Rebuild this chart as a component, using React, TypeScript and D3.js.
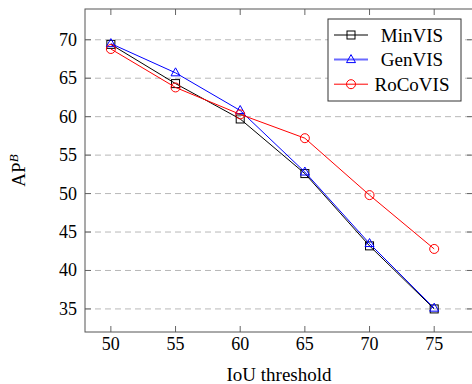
import React, { useRef, useEffect } from "react";
import * as d3 from "d3";

const thresholds = [50, 55, 60, 65, 70, 75];
const minVIS = [69.4, 64.3, 59.7, 52.6, 43.2, 35.0];
const genVIS = [69.5, 65.7, 60.8, 52.8, 43.5, 35.1];
const roCoVIS = [68.8, 63.8, 60.3, 57.2, 49.8, 42.8];
const yTicks = [35, 40, 45, 50, 55, 60, 65, 70];
const seriesNames = ["MinVIS", "GenVIS", "RoCoVIS"];

export default function App() {
    const ref = useRef<SVGSVGElement>(null);

    useEffect(() => {
        const width = 472, height = 384;
        const left = 85, right = 473, top = 9, bottom = 332;
        const font = "'Liberation Serif', 'Times New Roman', serif";

        const svg = d3.select(ref.current);
        svg.selectAll("*").remove();
        svg.attr("width", width).attr("height", height);

        const x = d3.scaleLinear().domain([48, 78]).range([left, right]);
        const y = d3.scaleLinear().domain([32, 74]).range([bottom, top]);

        // grille horizontale
        svg.append("g")
            .selectAll("line")
            .data(yTicks)
            .enter()
            .append("line")
            .attr("x1", left).attr("x2", right)
            .attr("y1", d => y(d)).attr("y2", d => y(d))
            .attr("stroke", "#b8b8b8")
            .attr("stroke-width", 1)
            .attr("stroke-dasharray", "6,4");

        // ticks internes
        const tickColor = "#666";
        const tk = svg.append("g").attr("stroke", tickColor).attr("stroke-width", 1);
        thresholds.forEach(t => {
            tk.append("line").attr("x1", x(t)).attr("x2", x(t)).attr("y1", bottom).attr("y2", bottom - 6);
            tk.append("line").attr("x1", x(t)).attr("x2", x(t)).attr("y1", top).attr("y2", top + 6);
        });
        yTicks.forEach(t => {
            tk.append("line").attr("x1", left).attr("x2", left + 6).attr("y1", y(t)).attr("y2", y(t));
            tk.append("line").attr("x1", right).attr("x2", right - 6).attr("y1", y(t)).attr("y2", y(t));
        });

        // cadre
        svg.append("rect")
            .attr("x", left).attr("y", top)
            .attr("width", right - left).attr("height", bottom - top)
            .attr("fill", "none")
            .attr("stroke", "#555")
            .attr("stroke-width", 1);

        // labels des ticks
        svg.append("g")
            .selectAll("text")
            .data(thresholds)
            .enter()
            .append("text")
            .attr("x", d => x(d))
            .attr("y", 350)
            .attr("text-anchor", "middle")
            .attr("font-family", font)
            .attr("font-size", 18)
            .text(d => d);

        svg.append("g")
            .selectAll("text")
            .data(yTicks)
            .enter()
            .append("text")
            .attr("x", 77)
            .attr("y", d => y(d) + 6)
            .attr("text-anchor", "end")
            .attr("font-family", font)
            .attr("font-size", 18)
            .text(d => d);

        // titres des axes
        svg.append("text")
            .attr("x", (left + right) / 2)
            .attr("y", 381)
            .attr("text-anchor", "middle")
            .attr("font-family", font)
            .attr("font-size", 19)
            .text("IoU threshold");

        const yl = svg.append("text")
            .attr("transform", `translate(25,${(top + bottom) / 2}) rotate(-90)`)
            .attr("text-anchor", "middle")
            .attr("font-family", font)
            .attr("font-size", 19);
        yl.append("tspan").text("AP");
        yl.append("tspan").attr("dy", -7).attr("font-size", 13).attr("font-style", "italic").text("B");

        const series = [
            { name: seriesNames[0], values: minVIS, color: "#000000", mark: "square" },
            { name: seriesNames[1], values: genVIS, color: "#0000ff", mark: "triangle" },
            { name: seriesNames[2], values: roCoVIS, color: "#ff0000", mark: "circle" },
        ];

        const drawMark = (g: any, mark: string, cx: number, cy: number, color: string) => {
            if (mark === "square") {
                g.append("rect").attr("x", cx - 4).attr("y", cy - 4).attr("width", 8).attr("height", 8)
                    .attr("fill", "none").attr("stroke", color).attr("stroke-width", 1);
            } else if (mark === "triangle") {
                g.append("path").attr("d", `M${cx},${cy - 5}L${cx + 4.5},${cy + 3}L${cx - 4.5},${cy + 3}Z`)
                    .attr("fill", "none").attr("stroke", color).attr("stroke-width", 1);
            } else {
                g.append("circle").attr("cx", cx).attr("cy", cy).attr("r", 4.5)
                    .attr("fill", "none").attr("stroke", color).attr("stroke-width", 1);
            }
        };

        const line = d3.line<number>()
            .x((d, i) => x(thresholds[i]))
            .y(d => y(d));

        series.forEach(s => {
            const g = svg.append("g");
            g.append("path")
                .attr("d", line(s.values))
                .attr("fill", "none")
                .attr("stroke", s.color)
                .attr("stroke-width", 1);
            s.values.forEach((v, i) => drawMark(g, s.mark, x(thresholds[i]), y(v), s.color));
        });

        // légende
        const lg = svg.append("g");
        lg.append("rect")
            .attr("x", 328).attr("y", 19)
            .attr("width", 133).attr("height", 82)
            .attr("fill", "white")
            .attr("stroke", "#333")
            .attr("stroke-width", 1);
        series.forEach((s, i) => {
            const cy = 35 + i * 24.6;
            lg.append("line")
                .attr("x1", 334).attr("x2", 368)
                .attr("y1", cy).attr("y2", cy)
                .attr("stroke", i === 1 ? "#6a6aff" : s.color)
                .attr("stroke-width", i === 1 ? 2 : 1);
            drawMark(lg, s.mark, 351, cy, s.color);
            lg.append("text")
                .attr("x", 412)
                .attr("y", cy + 6.5)
                .attr("text-anchor", "middle")
                .attr("font-family", font)
                .attr("font-size", 19)
                .text(s.name);
        });
    }, []);

    return (
        <svg ref={ref} style={{ position: "absolute", left: 0, top: 0, background: "white" }}></svg>
    );
}
